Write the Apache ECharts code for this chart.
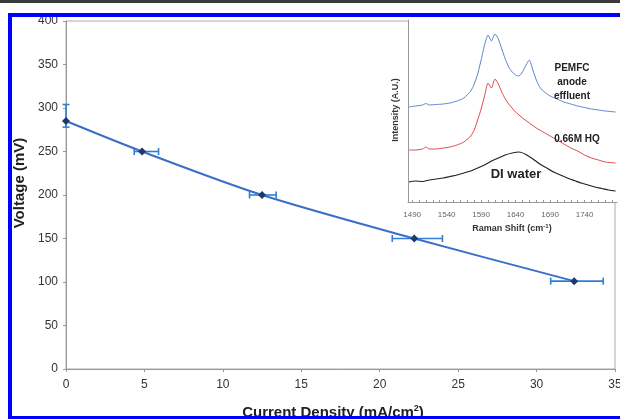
<!DOCTYPE html>
<html>
<head>
<meta charset="utf-8">
<script src="https://cdn.jsdelivr.net/npm/echarts@6/dist/echarts.min.js"></script>
<style>
  html, body { margin: 0; padding: 0; background: #fff; }
  #main { width: 620px; height: 419px; }
</style>
</head>
<body>
<div id="main"></div>
<script>
// Main plot: voltage vs current density, with error bars
const currentDensity = [0, 4.85, 12.5, 22.2, 32.4];
const voltage = [285, 250, 200, 150, 101];
const currentLow = [0, 4.35, 11.7, 20.8, 30.9];
const currentHigh = [0, 5.9, 13.4, 24.0, 34.25];
const voltageLow = [278, 250, 200, 150, 101];
const voltageHigh = [304, 250, 200, 150, 101];

const xTicks = [0, 5, 10, 15, 20, 25, 30, 35];
const yTicks = [0, 50, 100, 150, 200, 250, 300, 350, 400];

// Inset: Raman spectra (arbitrary intensity)
const ramanLabels = [1490, 1540, 1590, 1640, 1690, 1740];
const pemfc = [
  [1485, 95], [1495, 96], [1505, 97], [1510, 98.5], [1515, 97], [1525, 97.5],
  [1535, 98], [1545, 99], [1555, 101], [1565, 104], [1575, 111], [1580, 118],
  [1585, 128], [1590, 142], [1595, 157], [1600, 167], [1605, 161], [1610, 168],
  [1615, 163], [1620, 153], [1625, 143], [1630, 135], [1635, 130], [1640, 127],
  [1645, 126], [1650, 130], [1655, 137], [1660, 142], [1665, 132], [1670, 122],
  [1675, 115], [1680, 111], [1690, 106], [1700, 103], [1710, 100], [1720, 98],
  [1730, 96], [1740, 94.5], [1750, 93], [1760, 92], [1770, 91], [1785, 90]
];
const hq = [
  [1485, 52], [1495, 52], [1505, 53], [1510, 55], [1515, 53], [1525, 53],
  [1535, 54], [1545, 55], [1555, 57], [1565, 60], [1575, 66], [1580, 72],
  [1585, 82], [1590, 93], [1595, 106], [1600, 119], [1605, 114], [1610, 123],
  [1615, 118], [1620, 110], [1625, 103], [1630, 98], [1640, 90], [1650, 84],
  [1660, 79], [1670, 74], [1680, 70], [1690, 66], [1700, 62], [1710, 58],
  [1720, 54], [1730, 51], [1740, 47], [1750, 44], [1760, 42], [1770, 40], [1785, 39]
];
const diWater = [
  [1485, 20], [1495, 21], [1505, 20.5], [1515, 22], [1525, 23], [1535, 24],
  [1545, 25.5], [1555, 27], [1565, 29], [1575, 31], [1585, 34], [1595, 37],
  [1605, 41], [1615, 44], [1625, 47], [1635, 49], [1645, 50], [1655, 47.5],
  [1665, 43], [1675, 38], [1685, 34], [1695, 30], [1705, 27], [1715, 24],
  [1725, 21.5], [1735, 19], [1745, 17], [1755, 15], [1765, 13.5], [1775, 12], [1785, 11]
];

const chart = echarts.init(document.getElementById("main"));

const points = currentDensity.map((x, i) => [x, voltage[i]]);
const errors = currentDensity.map((x, i) => [
  x, voltage[i], currentLow[i], currentHigh[i], voltageLow[i], voltageHigh[i]
]);

function renderError(params, api) {
  const y = api.value(1);
  const x = api.value(0);
  const children = [];
  const style = { stroke: "#2f7fd6", lineWidth: 1.6 };
  const cap = 3.5;
  if (api.value(3) > api.value(2)) {
    const a = api.coord([api.value(2), y]);
    const b = api.coord([api.value(3), y]);
    children.push({ type: "line", shape: { x1: a[0], y1: a[1], x2: b[0], y2: b[1] }, style });
    children.push({ type: "line", shape: { x1: a[0], y1: a[1] - cap, x2: a[0], y2: a[1] + cap }, style });
    children.push({ type: "line", shape: { x1: b[0], y1: b[1] - cap, x2: b[0], y2: b[1] + cap }, style });
  }
  if (api.value(5) > api.value(4)) {
    const a = api.coord([x, api.value(4)]);
    const b = api.coord([x, api.value(5)]);
    children.push({ type: "line", shape: { x1: a[0], y1: a[1], x2: b[0], y2: b[1] }, style });
    children.push({ type: "line", shape: { x1: a[0] - cap, y1: a[1], x2: a[0] + cap, y2: a[1] }, style });
    children.push({ type: "line", shape: { x1: b[0] - cap, y1: b[1], x2: b[0] + cap, y2: b[1] }, style });
  }
  return { type: "group", children };
}

const tickFont = { color: "#333", fontSize: 12, fontFamily: "Liberation Sans, Arial" };

let option = {
  animation: false,
  backgroundColor: "#fff",
  grid: [
    {
      left: 66, top: 21, right: 5, bottom: 50, show: true, borderColor: "#aaa", borderWidth: 1,
      outerBoundsMode: "none", containLabel: false
    },
    {
      left: 408, top: 20, right: 3, bottom: 217, show: true, backgroundColor: "#fff", borderWidth: 0, z: 5,
      outerBoundsMode: "none", containLabel: false
    }
  ],
  xAxis: [
    {
      gridIndex: 0, type: "value", min: 0, max: 35, interval: 5,
      axisLine: { lineStyle: { color: "#999" } },
      axisTick: { show: true, inside: false, length: 3, lineStyle: { color: "#999" } },
      splitLine: { show: false },
      axisLabel: Object.assign({ margin: 10, showMaxLabel: true }, tickFont)
    },
    {
      gridIndex: 1, type: "value", min: 1484, max: 1787, z: 6,
      axisLine: { onZero: false, lineStyle: { color: "#999" } },
      axisTick: {
        show: true, inside: true, length: 2, lineStyle: { color: "#999" },
        customValues: [1490, 1500, 1510, 1520, 1530, 1540, 1550, 1560, 1570, 1580, 1590, 1600,
          1610, 1620, 1630, 1640, 1650, 1660, 1670, 1680, 1690, 1700, 1710, 1720, 1730, 1740,
          1750, 1760, 1770, 1780]
      },
      splitLine: { show: false },
      axisLabel: {
        customValues: ramanLabels, formatter: (v) => String(v),
        color: "#666", fontSize: 8, margin: 9, fontFamily: "Liberation Sans, Arial"
      }
    }
  ],
  yAxis: [
    {
      gridIndex: 0, type: "value", min: 0, max: 400, interval: 50,
      axisLine: { show: true, lineStyle: { color: "#999" } },
      axisTick: { show: true, inside: false, length: 3, lineStyle: { color: "#999" } },
      splitLine: { show: false },
      axisLabel: Object.assign({ margin: 8 }, tickFont)
    },
    {
      gridIndex: 1, type: "value", min: 0, max: 182, z: 6,
      axisLine: { show: true, onZero: false, lineStyle: { color: "#999" } },
      axisTick: { show: false },
      axisLabel: { show: false },
      splitLine: { show: false }
    }
  ],
  series: [
    {
      type: "line", xAxisIndex: 0, yAxisIndex: 0, data: points, smooth: 0.3,
      lineStyle: { color: "#3a6fc8", width: 2 },
      symbol: "diamond", symbolSize: 8,
      itemStyle: { color: "#1d3a6b" }, z: 4
    },
    {
      type: "custom", xAxisIndex: 0, yAxisIndex: 0, data: errors,
      renderItem: renderError, z: 3
    },
    {
      type: "line", xAxisIndex: 1, yAxisIndex: 1, data: pemfc, smooth: 0.2, symbol: "none",
      lineStyle: { color: "#5b86cf", width: 1 }, z: 6
    },
    {
      type: "line", xAxisIndex: 1, yAxisIndex: 1, data: hq, smooth: 0.2, symbol: "none",
      lineStyle: { color: "#e0484a", width: 1 }, z: 6
    },
    {
      type: "line", xAxisIndex: 1, yAxisIndex: 1, data: diWater, smooth: 0.2, symbol: "none",
      lineStyle: { color: "#222", width: 1.2 }, z: 6
    }
  ],
  graphic: [
    { type: "rect", left: 0, top: 0, shape: { width: 620, height: 3 }, style: { fill: "#3a3a3a" }, z: 100 },
    { type: "rect", left: 8, top: 13, shape: { width: 612, height: 4 }, style: { fill: "#0000ff" }, z: 100 },
    { type: "rect", left: 8, top: 13, shape: { width: 4, height: 406 }, style: { fill: "#0000ff" }, z: 100 },
    { type: "rect", left: 8, top: 416, shape: { width: 612, height: 3 }, style: { fill: "#0000ff" }, z: 100 },
    {
      type: "line", shape: { x1: 408.5, y1: 20, x2: 408.5, y2: 202 },
      style: { stroke: "#999", lineWidth: 1 }, z: 60
    },
    {
      type: "text", x: 20, y: 183, rotation: Math.PI / 2, z: 50,
      style: { text: "Voltage (mV)", font: "bold 15px Liberation Sans, Arial", fill: "#222", align: "center", verticalAlign: "middle" }
    },
    {
      type: "text", x: 333, y: 413, z: 50,
      style: {
        text: "{a|Current Density (mA/cm}{s|2}{a|)}", align: "center", verticalAlign: "middle",
        rich: {
          a: { font: "bold 15px Liberation Sans, Arial", fill: "#222" },
          s: { font: "bold 9px Liberation Sans, Arial", fill: "#222", verticalAlign: "top", padding: [0, 0, 8, 0] }
        }
      }
    },
    {
      type: "text", x: 396, y: 110, rotation: Math.PI / 2, z: 50,
      style: { text: "Intensity (A.U.)", font: "bold 9px Liberation Sans, Arial", fill: "#333", align: "center", verticalAlign: "middle" }
    },
    {
      type: "text", x: 512, y: 229, z: 50,
      style: {
        text: "{a|Raman Shift (cm}{s|-1}{a|)}", align: "center", verticalAlign: "middle",
        rich: {
          a: { font: "bold 9px Liberation Sans, Arial", fill: "#333" },
          s: { font: "bold 6px Liberation Sans, Arial", fill: "#333", padding: [0, 0, 5, 0] }
        }
      }
    },
    {
      type: "text", x: 572, y: 82, z: 50,
      style: { text: "PEMFC\nanode\neffluent", font: "bold 10px Liberation Sans, Arial", lineHeight: 14, fill: "#222", align: "center", verticalAlign: "middle" }
    },
    {
      type: "text", x: 577, y: 139, z: 50,
      style: { text: "0.66M HQ", font: "bold 10px Liberation Sans, Arial", fill: "#222", align: "center", verticalAlign: "middle" }
    },
    {
      type: "text", x: 516, y: 174, z: 50,
      style: { text: "DI water", font: "bold 13px Liberation Sans, Arial", fill: "#222", align: "center", verticalAlign: "middle" }
    }
  ]
};

chart.setOption(option);
</script>
</body>
</html>
